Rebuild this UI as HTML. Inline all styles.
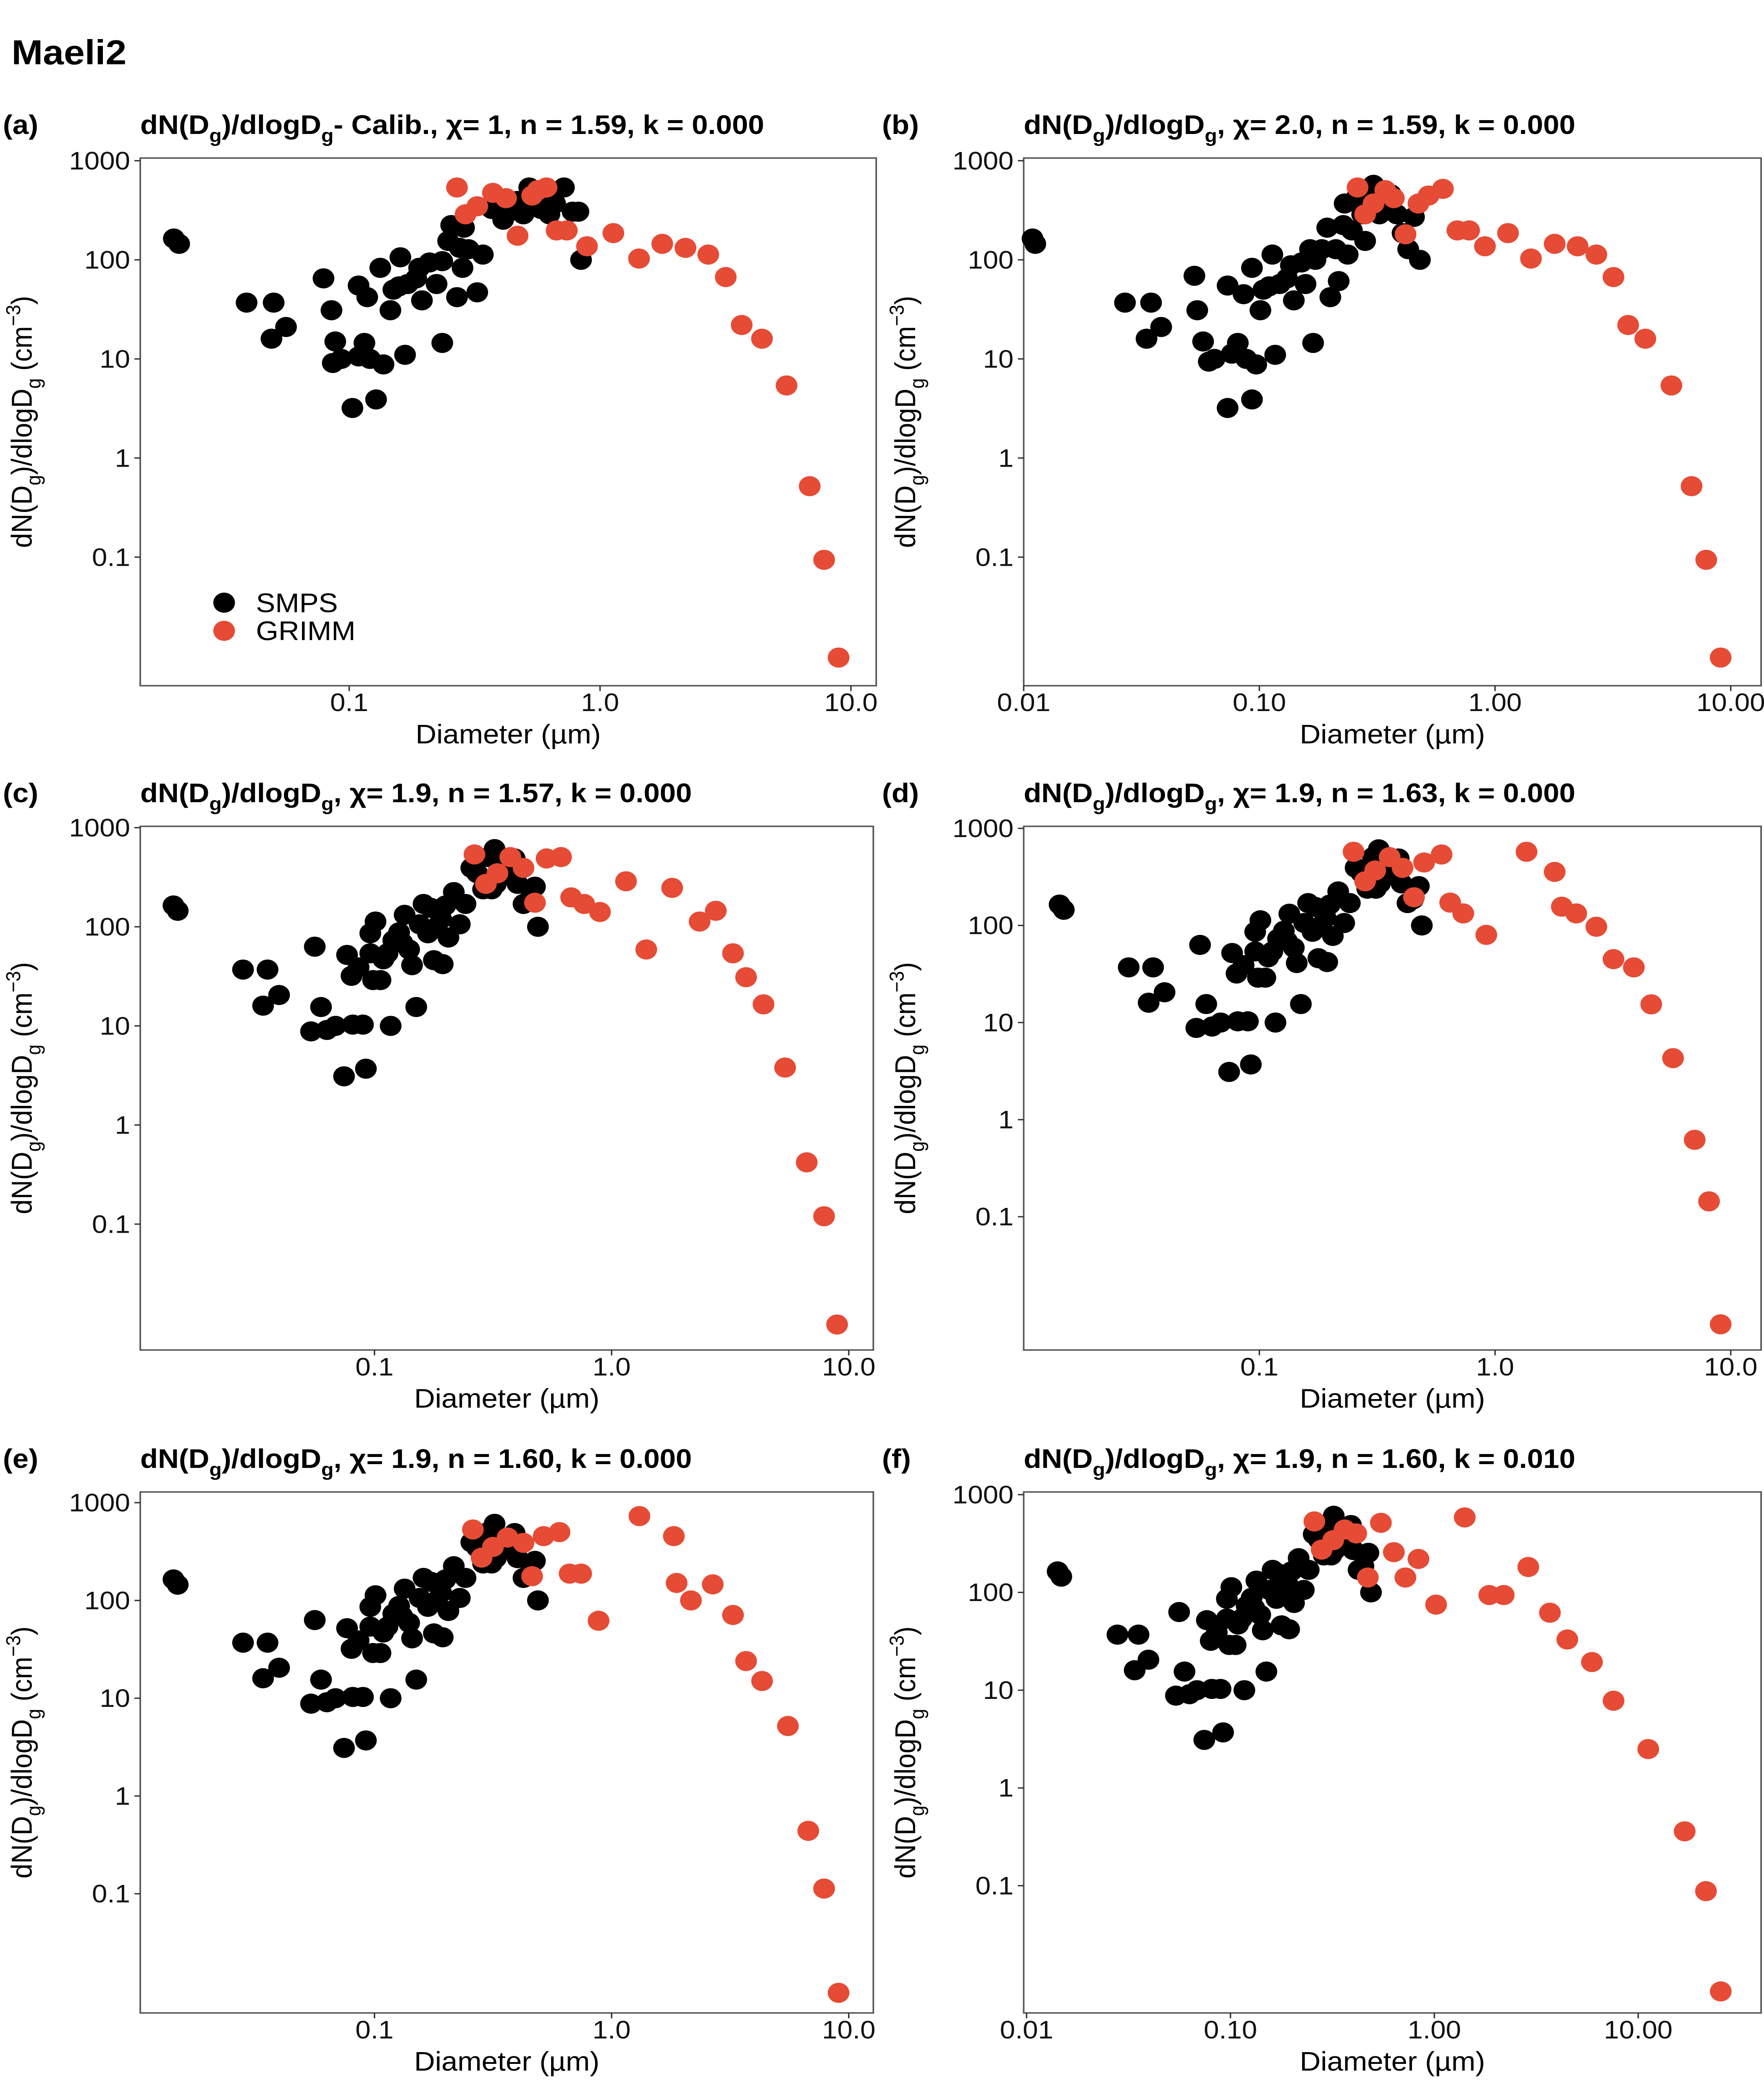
<!DOCTYPE html>
<html><head><meta charset="utf-8"><style>
html,body{margin:0;padding:0;background:#fff;width:100%;height:100%;overflow:hidden;}
svg{display:block;position:absolute;left:0;top:0;width:100vw;height:100vh;font-family:"Liberation Sans",Arial,sans-serif;}
</style></head><body>
<svg id="fig" xmlns="http://www.w3.org/2000/svg" viewBox="0 0 1220 1568" preserveAspectRatio="none" overflow="hidden">
<rect x="0" y="0" width="1220" height="1568" fill="#fff"/>
<text x="8" y="48" font-size="26" font-weight="bold">Maeli2</text>
</svg>
<script>
// Panel (a)
const aSmpsD=[0.020,0.021,0.039,0.050,0.049,0.056,0.079,0.085,0.088,0.086,0.093,0.103,0.109,0.109,0.115,0.118,0.121,0.128,0.133,0.137,0.146,0.150,0.158,0.160,0.167,0.171,0.185,0.190,0.195,0.209,0.223,0.235,0.235,0.248,0.269,0.276,0.283,0.299,0.324,0.255,0.287,0.341,0.370,0.411,0.434,0.469,0.495,0.522,0.551,0.581,0.628,0.662,0.718,0.777,0.82,0.84];
const aSmpsN=[164,145,37,37,16,21,65,31,15,9.1,10,3.2,55,10.6,14.5,42,10,3.9,83,8.8,31,50,54,106,11,57,65,83,39,94,57,14.5,97,155,42,132,83,128,47,224,211,113,326,254,306,393,288,537,419,326,288,370,537,306,306,100];
const aGrimmD=[0.269,0.291,0.324,0.374,0.422,0.469,0.536,0.565,0.612,0.671,0.737,0.887,1.13,1.43,1.77,2.19,2.70,3.17,3.67,4.42,5.54,6.85,7.82,8.93];
const aGrimmN=[537,288,347,474,419,175,445,505,537,198,198,137,186,103,145,132,113,67,22,16,5.4,0.52,0.094,0.0097];
// Panel (b)
const bSmpsD=[0.0109,0.0112,0.0269,0.0347,0.0332,0.0383,0.053,0.0545,0.0577,0.061,0.0645,0.0733,0.0733,0.0764,0.081,0.0857,0.088,0.093,0.093,0.097,0.101,0.104,0.110,0.1135,0.1167,0.122,0.131,0.136,0.140,0.151,0.157,0.164,0.169,0.173,0.184,0.194,0.200,0.211,0.217,0.227,0.237,0.247,0.258,0.273,0.289,0.305,0.323,0.342,0.361,0.383,0.405,0.428,0.453,0.480,0.230,0.281];
const bSmpsN=[164,145,37,37,16,21,69,31,15,9.4,10,3.2,55,11.3,14.5,45,10,3.9,83,8.8,31,50,54,113,11,57,65,88,39,94,57,128,14.5,100,128,211,42,128,61,224,113,198,419,288,419,571,288,347,459,288,186,128,271,100,370,155];
const bGrimmD=[0.261,0.281,0.305,0.342,0.372,0.417,0.473,0.522,0.601,0.692,0.776,0.906,1.135,1.42,1.79,2.24,2.69,3.18,3.67,4.34,5.60,6.82,7.87,9.06];
const bGrimmN=[537,288,370,505,419,181,370,445,520,198,198,137,186,103,145,137,113,67,22,16,5.4,0.52,0.094,0.0097];
// SMPS shared by panels (c)-(f)
const smpsD=[0.0142,0.0148,0.0279,0.0354,0.0339,0.0396,0.054,0.056,0.0595,0.063,0.0685,0.0744,0.0766,0.080,0.081,0.0857,0.0894,0.092,0.096,0.096,0.0986,0.101,0.106,0.109,0.1135,0.117,0.120,0.127,0.131,0.134,0.140,0.144,0.150,0.155,0.161,0.168,0.173,0.178,0.183,0.191,0.194,0.199,0.205,0.216,0.229,0.242,0.256,0.271,0.287,0.303,0.312,0.321,0.339,0.379,0.390,0.401,0.425,0.449,0.475,0.489,0.325];
const smpsN=[164,145,37,37,16,20.5,8.8,63,15.5,9.1,10,3.1,52,32,10.3,39,10.3,3.7,86,54,29,113,29,47,54,10,73,88,69,132,59,41,15.5,106,170,86,155,46,100,120,42,164,78,224,106,170,393,347,239,505,239,608,393,326,489,271,170,186,254,100,271];
const cGrimmD=[0.264,0.295,0.330,0.374,0.425,0.475,0.532,0.612,0.675,0.766,0.893,1.15,1.40,1.80,2.35,2.75,3.25,3.69,4.37,5.39,6.65,7.87,8.93];
const cGrimmN=[537,271,347,505,393,175,489,505,198,170,141,288,59,247,113,145,54,31,16.5,3.8,0.42,0.12,0.0097];
const dGrimmD=[0.251,0.281,0.310,0.357,0.405,0.453,0.500,0.593,0.645,0.733,0.918,1.36,1.79,1.92,2.21,2.69,3.18,3.88,4.60,5.69,7.03,8.09,9.06];
const dGrimmN=[574,285,368,505,392,195,445,538,172,133,80,574,356,156,133,97,45,37,15.4,4.3,0.62,0.144,0.0078];
const eGrimmD=[0.260,0.283,0.316,0.364,0.425,0.462,0.517,0.603,0.665,0.744,0.881,1.31,1.83,1.88,2.16,2.67,3.25,3.69,4.31,5.54,6.75,7.87,9.06];
const eGrimmN=[532,274,353,440,388,177,455,500,188,188,62,729,455,151,100,146,71,24,15,5.2,0.44,0.113,0.0097];
const fGrimmD=[0.258,0.280,0.319,0.363,0.414,0.472,0.547,0.633,0.721,0.836,1.02,1.41,1.86,2.19,2.89,3.69,4.49,5.93,7.57,11.2,16.9,21.5,25.4];
const fGrimmN=[532,274,342,440,401,142,515,258,142,220,75,585,94,94,182,62,33,19.4,7.8,2.5,0.36,0.088,0.0083];
// Ticks
const yTickVals=[1000,100,10,1,0.1];
const yTickLabels=["1000","100","10","1","0.1"];
const xTickValsA=[0.1,1,10];
const xTickLabelsA=["0.1","1.0","10.0"];
const xTickValsB=[0.01,0.1,1,10];
const xTickLabelsB=["0.01","0.10","1.00","10.00"];

const NS="http://www.w3.org/2000/svg";
const svg=document.getElementById('fig');
function mk(tag,attrs,parent){const e=document.createElementNS(NS,tag);for(const k in attrs)e.setAttribute(k,attrs[k]);(parent||svg).appendChild(e);return e;}

const panels=[
 {id:'a',box:[97,118,606,512],x0:415,xs:173.5,y0:342,ys:74,xt:xTickValsA,xl:xTickLabelsA,title:'- Calib., χ= 1, n = 1.59, k = 0.000',sd:aSmpsD,sn:aSmpsN,gd:aGrimmD,gn:aGrimmN,legend:true},
 {id:'b',box:[708,118,1218,512],x0:1034,xs:163,y0:342,ys:74,xt:xTickValsB,xl:xTickLabelsB,title:', χ= 2.0, n = 1.59, k = 0.000',sd:bSmpsD,sn:bSmpsN,gd:bGrimmD,gn:bGrimmN},
 {id:'c',box:[97,617,604,1008],x0:423,xs:164,y0:840,ys:74,xt:xTickValsA,xl:xTickLabelsA,title:', χ= 1.9, n = 1.57, k = 0.000',sd:smpsD,sn:smpsN,gd:cGrimmD,gn:cGrimmN},
 {id:'d',box:[708,617,1218,1008],x0:1034,xs:163,y0:836,ys:72.5,xt:xTickValsA,xl:xTickLabelsA,title:', χ= 1.9, n = 1.63, k = 0.000',sd:smpsD,sn:smpsN,gd:dGrimmD,gn:dGrimmN},
 {id:'e',box:[97,1114,604,1503],x0:423,xs:164,y0:1341,ys:73,xt:xTickValsA,xl:xTickLabelsA,title:', χ= 1.9, n = 1.60, k = 0.000',sd:smpsD,sn:smpsN,gd:eGrimmD,gn:eGrimmN},
 {id:'f',box:[708,1114,1218,1503],x0:992,xs:141,y0:1335,ys:73,xt:xTickValsB,xl:xTickLabelsB,title:', χ= 1.9, n = 1.60, k = 0.010',sd:smpsD,sn:smpsN,gd:fGrimmD,gn:fGrimmN}
];

panels.forEach(p=>{
  const [L,T,R,B]=p.box;
  const xScale=v=>p.x0+p.xs*Math.log10(v);
  const yScale=v=>p.y0-p.ys*Math.log10(v);
  const g=mk('g',{});
  
  
  const lab=mk('text',{x:(L<300?2:610),y:T-18,'font-size':20,'font-weight':'bold'},g);
  lab.textContent='('+p.id+')';
  
  
  const tt=mk('text',{x:L,y:T-18,'font-size':20,'font-weight':'bold'},g);
  
  
  tt.innerHTML='dN(D<tspan font-size="14" dy="6">g</tspan><tspan dy="-6">)/dlogD</tspan><tspan font-size="14" dy="6">g</tspan><tspan dy="-6">'+p.title+'</tspan>';
  const box=mk('rect',{x:L,y:T,width:R-L,height:B-T,fill:'none',stroke:'#555','stroke-width':1.1},g);
  
  
  yTickVals.forEach((v,i)=>{
    const y=yScale(v);
    mk('line',{x1:L-4,x2:L,y1:y,y2:y,stroke:'#333','stroke-width':1},g);
    const t=mk('text',{x:L-7,y:y+6.5,'font-size':19,'text-anchor':'end',fill:'#111'},g);
    t.textContent=yTickLabels[i];
    
    
  });
  p.xt.forEach((v,i)=>{
    const x=xScale(v);
    mk('line',{x1:x,x2:x,y1:B,y2:B+4,stroke:'#333','stroke-width':1},g);
    const t=mk('text',{x:x,y:B+19,'font-size':19,'text-anchor':'middle',fill:'#111'},g);
    t.textContent=p.xl[i];
    
    
  });
  const xt=mk('text',{x:(L+R)/2,y:B+43,'font-size':20,'text-anchor':'middle'},g);
  xt.textContent='Diameter (µm)';
  
  
  const yx=L-75, yc=(T+B)/2;
  const yt=mk('text',{x:0,y:0,'font-size':20,'text-anchor':'middle',transform:'translate('+yx+','+yc+') rotate(-90)'},g);
  
  
  yt.innerHTML='dN(D<tspan font-size="14" dy="6">g</tspan><tspan dy="-6">)/dlogD</tspan><tspan font-size="14" dy="6">g</tspan><tspan dy="-6"> (cm</tspan><tspan font-size="14" dy="-8">−3</tspan><tspan dy="8">)</tspan>';
  p.sd.forEach((d,i)=>{
    const c=mk('circle',{cx:xScale(d),cy:yScale(p.sn[i]),r:7.5,fill:'#000'},g);
    
    
  });
  p.gd.forEach((d,i)=>{
    const c=mk('circle',{cx:xScale(d),cy:yScale(p.gn[i]),r:7.5,fill:'#E64B35'},g);
    
    
  });
  if(p.legend){
    const l1=mk('circle',{cx:155,cy:450,r:7.5,fill:'#000'},g);
    
    
    const t1=mk('text',{x:177,y:457,'font-size':20},g);t1.textContent='SMPS';
    
    
    const l2=mk('circle',{cx:155,cy:471,r:7.5,fill:'#E64B35'},g);
    
    
    const t2=mk('text',{x:177,y:478,'font-size':20},g);t2.textContent='GRIMM';
    
    
  }
});
</script>
</body></html>
